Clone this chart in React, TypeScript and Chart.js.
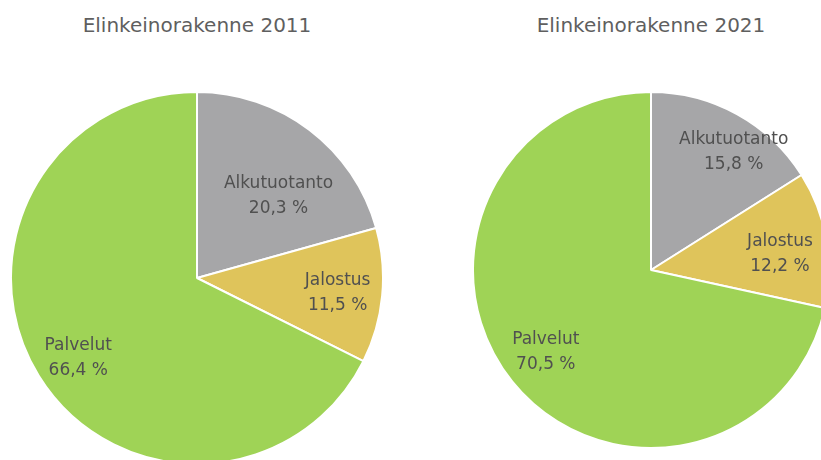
import React, { useEffect, useRef } from "react";
import { Chart, registerables } from "chart.js";

Chart.register(...registerables);

// Sector names and their shares (%) for each year
const sectors = ["Alkutuotanto", "Jalostus", "Palvelut"];
const shares2011 = [20.3, 11.5, 66.4];
const shares2021 = [15.8, 12.2, 70.5];
const titles = ["Elinkeinorakenne 2011", "Elinkeinorakenne 2021"];

const sectorColors = ["#a6a6a8", "#dfc45b", "#9fd356"];
const FONT = "'DejaVu Sans', 'Noto Sans', sans-serif";

// Label anchor per slice: angle clockwise from top (deg) and fraction of radius
type Anchor = { deg: number; frac: number };

const fmt = (v: number) => v.toFixed(1).replace(".", ",") + " %";

function makeLabelPlugin(anchors: Anchor[]) {
  return {
    id: "sliceLabels",
    afterDatasetsDraw(chart: any) {
      const meta = chart.getDatasetMeta(0);
      const ctx = chart.ctx;
      const values = chart.data.datasets[0].data as number[];
      ctx.save();
      ctx.font = `17px ${FONT}`;
      ctx.fillStyle = "#505050";
      ctx.textAlign = "center";
      ctx.textBaseline = "middle";
      meta.data.forEach((arc: any, i: number) => {
        const { x, y, outerRadius } = arc.getProps(["x", "y", "outerRadius"], true);
        const a = (anchors[i].deg * Math.PI) / 180;
        const r = outerRadius * anchors[i].frac;
        const cx = x + r * Math.sin(a);
        const cy = y - r * Math.cos(a);
        ctx.fillText(chart.data.labels[i], cx, cy - 12.5);
        ctx.fillText(fmt(values[i]), cx, cy + 12.5);
      });
      ctx.restore();
    },
  };
}

function Pie(props: {
  values: number[];
  anchors: Anchor[];
  left: number;
  top: number;
  size: number;
}) {
  const ref = useRef<HTMLCanvasElement>(null);
  useEffect(() => {
    const chart = new Chart(ref.current!, {
      type: "pie",
      data: {
        labels: sectors,
        datasets: [
          {
            data: props.values,
            backgroundColor: sectorColors,
            borderColor: "#ffffff",
            borderWidth: 2,
          },
        ],
      },
      options: {
        responsive: false,
        animation: false,
        layout: { padding: 0 },
        plugins: { legend: { display: false }, tooltip: { enabled: false }, title: { display: false } },
      },
      plugins: [makeLabelPlugin(props.anchors)],
    });
    return () => chart.destroy();
  }, []);
  return (
    <canvas
      ref={ref}
      width={props.size}
      height={props.size}
      style={{ position: "absolute", left: props.left, top: props.top, width: props.size, height: props.size }}
    />
  );
}

function Title(props: { text: string; cx: number }) {
  return (
    <div
      style={{
        position: "absolute",
        left: props.cx - 200,
        width: 400,
        top: 12,
        textAlign: "center",
        fontFamily: FONT,
        fontSize: 20,
        lineHeight: "26px",
        color: "#5f5f5f",
      }}
    >
      {props.text}
    </div>
  );
}

export default function App() {
  return (
    <div
      style={{
        position: "fixed",
        left: 0,
        top: 0,
        width: 821,
        height: 460,
        overflow: "hidden",
        background: "#ffffff",
      }}
    >
      <Title text={titles[0]} cx={197} />
      <Title text={titles[1]} cx={651} />
      <Pie
        values={shares2011}
        anchors={[
          { deg: 45, frac: 0.62 },
          { deg: 96, frac: 0.76 },
          { deg: 236, frac: 0.77 },
        ]}
        left={10}
        top={91}
        size={374}
      />
      <Pie
        values={shares2021}
        anchors={[
          { deg: 35, frac: 0.81 },
          { deg: 83, frac: 0.73 },
          { deg: 232, frac: 0.75 },
        ]}
        left={472}
        top={91}
        size={358}
      />
    </div>
  );
}
